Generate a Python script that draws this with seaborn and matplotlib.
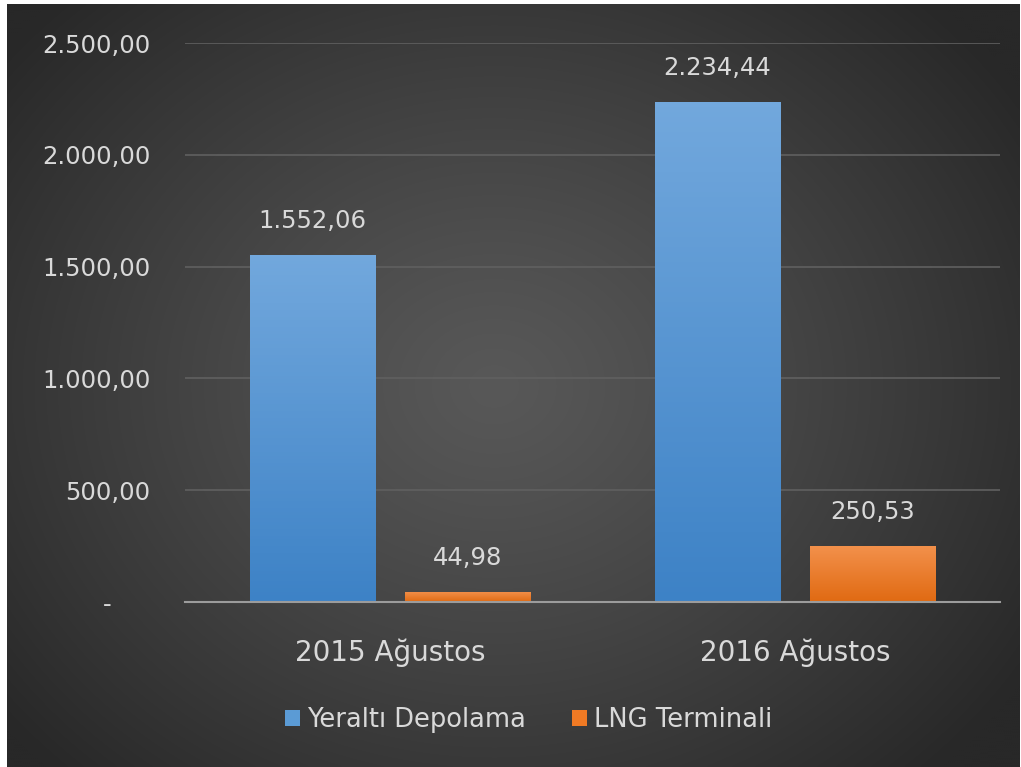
import numpy as np
import pandas as pd
import matplotlib
matplotlib.use("Agg")
import matplotlib.pyplot as plt
import seaborn as sns
from matplotlib.colors import LinearSegmentedColormap
from matplotlib.patches import Patch

# ---- data ----
periods = ["2015 Ağustos", "2016 Ağustos"]
series = ["Yeraltı Depolama", "LNG Terminali"]
yeralti = [1552.06, 2234.44]
lng = [44.98, 250.53]
yticks = [0, 500, 1000, 1500, 2000, 2500]

df = pd.DataFrame({
    "period": periods * 2,
    "series": [series[0]] * 2 + [series[1]] * 2,
    "value": yeralti + lng,
})

def tr_fmt(v):
    s = f"{v:,.2f}"
    return s.replace(",", "X").replace(".", ",").replace("X", ".")

sns.set_theme(style="dark")
plt.rcParams["font.family"] = ["DejaVu Sans"]

W, H = 1021, 767
fig = plt.figure(figsize=(W / 100, H / 100), dpi=100)
fig.patch.set_facecolor("white")

# radial gradient background
bg = fig.add_axes([7 / W, 0, (1019 - 7) / W, (H - 4) / H])
bg.set_axis_off()
ny, nx = 380, 506
yy, xx = np.mgrid[0:ny, 0:nx]
cx, cy = nx * 0.48, ny * 0.50
d = np.sqrt(((xx - cx) / (nx * 0.62)) ** 2 + ((yy - cy) / (ny * 0.70)) ** 2)
d = np.clip(d, 0, 1)
c_center = np.array([0x58, 0x58, 0x58]) / 255
c_edge = np.array([0x28, 0x28, 0x28]) / 255
img = c_center[None, None, :] + (c_edge - c_center)[None, None, :] * (d[..., None] ** 1.2)
bg.imshow(img, aspect="auto", extent=[0, 1, 0, 1], interpolation="bicubic")
bg.set_xlim(0, 1)
bg.set_ylim(0, 1)

ax = fig.add_axes([185 / W, 1 - 602 / H, (1000 - 185) / W, (602 - 43) / H])
ax.set_facecolor("none")

blue = "#5b9bd5"
orange = "#ed7d31"
sns.barplot(data=df, x="period", y="value", hue="series", order=periods,
            hue_order=series, palette=[blue, orange], width=0.765, gap=0.19,
            ax=ax, legend=False, saturation=1)

# gradient fill over bars
grad_blue = LinearSegmentedColormap.from_list("gb", ["#3d82c6", "#72a8dd"])
grad_orange = LinearSegmentedColormap.from_list("go", ["#e06a12", "#f3914c"])
bars = list(ax.patches)
for i, p in enumerate(bars):
    x0, y0 = p.get_x(), p.get_y()
    w, h = p.get_width(), p.get_height()
    cmap = grad_blue if p.get_facecolor()[2] > 0.5 else grad_orange
    g = np.linspace(1, 0, 100)[:, None]
    im = ax.imshow(g, cmap=cmap, aspect="auto", extent=[x0, x0 + w, y0, y0 + h],
                   zorder=p.get_zorder() + 0.1, vmin=0, vmax=1)
    im.set_clip_path(p)
    p.set_edgecolor("none")

ax.set_xlim(-0.506, 1.506)
ax.set_ylim(0, 2500)

# value labels
for p in bars:
    v = p.get_height()
    ax.annotate(tr_fmt(v), (p.get_x() + p.get_width() / 2, v),
                xytext=(0, 16), textcoords="offset points",
                ha="center", va="bottom", fontsize=17.5, color="#d9d9d9", zorder=5)

ax.set_yticks(yticks)
ax.set_yticklabels(["-     " if t == 0 else tr_fmt(t) for t in yticks])
ax.tick_params(axis="y", length=0, pad=25, labelsize=17.5, labelcolor="#d9d9d9")
ax.tick_params(axis="x", length=0, pad=26, labelsize=20, labelcolor="#d9d9d9")
ax.set_xlabel("")
ax.set_ylabel("")
ax.yaxis.grid(True, color="#606060", linewidth=1.2)
ax.xaxis.grid(False)
ax.set_axisbelow(True)
for s in ["top", "left", "right"]:
    ax.spines[s].set_visible(False)
ax.spines["bottom"].set_color("#9c9c9c")
ax.spines["bottom"].set_linewidth(1.5)
ax.spines["bottom"].set_zorder(4)

handles = [Patch(facecolor="#5b9bd5", edgecolor="none"),
           Patch(facecolor="#f07a24", edgecolor="none")]
fig.legend(handles, series, loc="center", bbox_to_anchor=(529 / W, 1 - 720 / H),
           ncol=2, frameon=False, fontsize=18.5, labelcolor="#d9d9d9",
           handlelength=0.55, handleheight=0.55, handletextpad=0.3, columnspacing=1.8)

fig.savefig("out.png", dpi=100, facecolor=fig.get_facecolor())
